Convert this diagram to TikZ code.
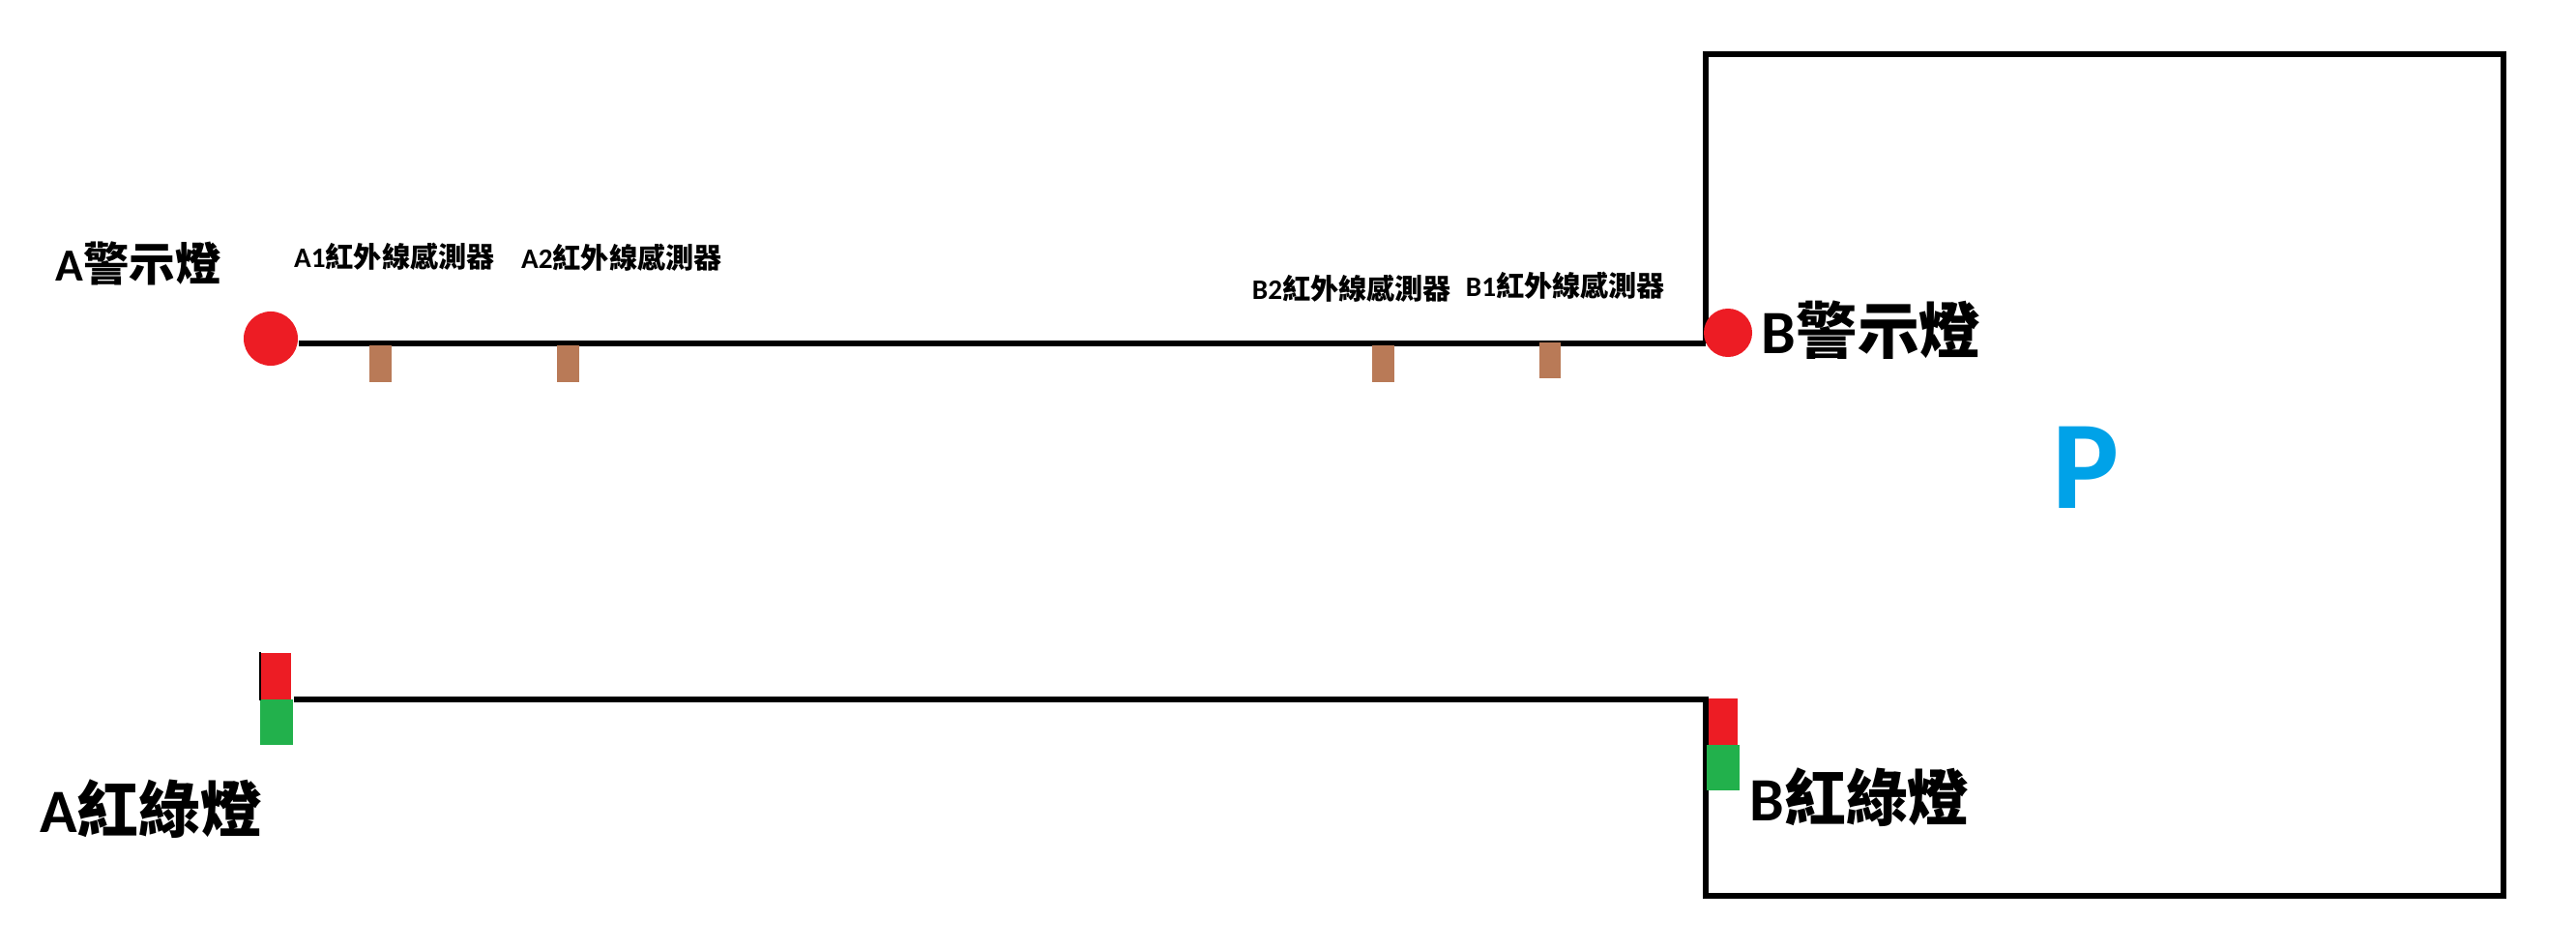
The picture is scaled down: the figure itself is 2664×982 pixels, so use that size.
\documentclass[tikz,border=0pt]{standalone}
\usepackage{fontspec}
\usetikzlibrary{backgrounds}
\setmainfont{Carlito}
\newfontfamily\cjkfont{Noto Sans CJK TC}
\newcommand{\cjk}[1]{{\cjkfont #1}}
\definecolor{lampred}{HTML}{ED1C24}
\definecolor{lampgreen}{HTML}{22B14C}
\definecolor{sensorbrown}{HTML}{B97A57}
\definecolor{parkblue}{HTML}{00A2E8}
\tikzset{
  wire/.style={draw=black,line width=1.55pt},
  lamp/.style={circle,fill=lampred,inner sep=0pt},
  sensor/.style={fill=sensorbrown,inner sep=0pt,minimum width=0.23cm,minimum height=0.38cm},
  redlight/.style={fill=lampred,inner sep=0pt,minimum width=0.31cm,minimum height=0.48cm},
  greenlight/.style={fill=lampgreen,inner sep=0pt,minimum width=0.34cm,minimum height=0.47cm},
  smalltag/.style={font=\fontsize{8.3pt}{10pt}\selectfont\bfseries,inner sep=0pt},
  midtag/.style={font=\fontsize{13.5pt}{16pt}\selectfont\bfseries,inner sep=0pt},
  bigtag/.style={font=\fontsize{18.1pt}{20pt}\selectfont\bfseries,inner sep=0pt}
}
\begin{document}
\begin{tikzpicture}[x=0.01cm,y=-0.01cm]
  \useasboundingbox (0,0) rectangle (2664,982);
  \coordinate (topjoin) at (1764,355);
  \coordinate (boxtl) at (1764,56);
  \coordinate (boxbr) at (2589,926);
  \coordinate (lowjoin) at (1764,723);
  \coordinate (lowend) at (304,723);
  \node[lamp,minimum size=0.56cm] (lampA) at (280,350) {};
  \node[lamp,minimum size=0.5cm] (lampB) at (1787,344) {};
  \node[sensor] (sensorA1) at (393.5,376) {};
  \node[sensor] (sensorA2) at (587.5,376) {};
  \node[sensor] (sensorB2) at (1430.5,376) {};
  \node[sensor,minimum width=0.22cm,minimum height=0.37cm] (sensorB1) at (1603,372.5) {};
  \node[redlight] (redA) at (285.5,699) {};
  \node[greenlight] (greenA) at (286,746.5) {};
  \node[redlight,minimum width=0.3cm] (redB) at (1782,746) {};
  \node[greenlight] (greenB) at (1782,793.5) {};
  \begin{scope}[on background layer]
    \draw[wire] (lampA.east |- topjoin) -- (topjoin);
    \draw[wire] (topjoin) -- (boxtl) -| (boxbr) -| (lowjoin) -- (lowend);
  \end{scope}
  \draw[line width=0.5pt] (redA.north west) -- (redA.south west);
  \node[midtag] (warnA) at (143,272) {A\cjk{警示燈}};
  \node[bigtag] (warnB) at (1935,341) {B\cjk{警示燈}};
  \node[smalltag] (tagA1) at (408,265) {A1\cjk{紅外線感測器}};
  \node[smalltag] (tagA2) at (643,266) {A2\cjk{紅外線感測器}};
  \node[smalltag] (tagB2) at (1398,298) {B2\cjk{紅外線感測器}};
  \node[smalltag] (tagB1) at (1619,295) {B1\cjk{紅外線感測器}};
  \node[bigtag] (lightA) at (156,836) {A\cjk{紅綠燈}};
  \node[bigtag] (lightB) at (1923,824) {B\cjk{紅綠燈}};
  \node[font=\fontsize{37pt}{40pt}\selectfont\bfseries,text=parkblue,inner sep=0pt,anchor=base] (park) at (2157,525) {P};
\end{tikzpicture}
\end{document}
